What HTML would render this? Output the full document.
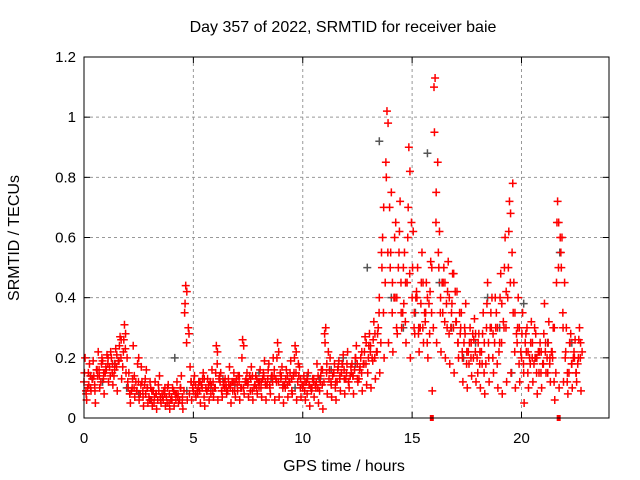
<!DOCTYPE html>
<html><head><meta charset="utf-8"><style>
body{margin:0;background:#fff}
svg{display:block;font-family:"Liberation Sans",sans-serif}
</style></head><body>
<svg id="chart" width="640" height="480">
<text x="343" y="32" font-size="16" text-anchor="middle">Day 357 of 2022, SRMTID for receiver baie</text>
<text x="344" y="471" font-size="16" text-anchor="middle">GPS time / hours</text>
<text transform="translate(19,238) rotate(-90)" font-size="16" text-anchor="middle">SRMTID / TECUs</text>
<g id="grid"></g><g id="axes"></g><g id="marks"></g>
<rect x="84" y="57" width="525" height="361" fill="none" stroke="#000"/>
</svg>
<script>
const xTicks=[0,5,10,15,20];
const yTicks=[0,0.2,0.4,0.6,0.8,1,1.2];
const mainVals=[.12,.08,.15,.10,.13,.09,.16,.14,.18,.15,.17,.2,.14,.18,.16,.21,.19,.26,.22,.28,.12,.08,.1,.14,.09,.2,.11,.07,.13,.1,.06,.09,.05,.08,.11,.06,.07,.1,.05,.08,.07,.09,.06,.08,.1,.07,.35,.42,.28,.12,.09,.11,.08,.12,.1,.13,.09,.11,.08,.12,.1,.22,.14,.09,.12,.1,.13,.11,.09,.12,.11,.14,.1,.24,.13,.12,.09,.14,.11,.13,.1,.12,.15,.11,.13,.1,.14,.16,.12,.22,.13,.11,.1,.14,.12,.09,.15,.22,.18,.13,.1,.12,.08,.11,.09,.13,.1,.14,.12,.16,.28,.18,.13,.11,.15,.12,.16,.14,.18,.13,.15,.12,.17,.14,.2,.13,.16,.22,.18,.25,.2,.24,.19,.28,.22,.4,.55,.7,.85,.98,.5,.45,.6,.4,.55,.35,.5,.45,.6,.82,.4,.35,.42,.3,.38,.45,.32,.4,.28,.5,1.1,.75,.55,.4,.35,.45,.3,.4,.35,.48,.32,.25,.28,.2,.3,.22,.18,.25,.2,.28,.15,.22,.18,.25,.3,.2,.35,.28,.4,.3,.25,.38,.3,.42,.5,.68,.78,.35,.25,.3,.2,.15,.28,.22,.18,.25,.3,.2,.15,.22,.18,.25,.15,.2,.22,.3,.45,.65,.55,.3,.2,.15,.25,.18,.22,.15,.2,.25];
const upperVals=[.2,.18,.14,.22,.19,.21,.2,.23,.27,.31,.15,.24,.18,.12,.16,.1,.12,.14,.09,.11,.1,.12,.14,.44,.17,.14,.12,.15,.13,.16,.24,.15,.13,.17,.15,.14,.26,.15,.17,.14,.16,.19,.18,.2,.25,.17,.16,.19,.24,.17,.14,.15,.13,.18,.16,.3,.2,.18,.19,.21,.22,.18,.24,.2,.27,.28,.32,.3,.6,1.02,.75,.65,.72,.55,.9,.62,.5,.55,.45,.52,1.13,.62,.5,.52,.48,.42,.35,.38,.3,.33,.28,.35,.45,.4,.35,.48,.6,.72,.45,.4,.35,.3,.32,.28,.25,.38,.32,.3,.72,.6,.3,.28,.26,.3];
const lowerVals=[.06,.09,.05,.1,.08,.12,.11,.09,.13,.15,.05,.07,.06,.04,.05,.04,.03,.05,.04,.03,.04,.05,.03,.06,.06,.07,.05,.04,.06,.07,.06,.07,.08,.05,.07,.06,.08,.07,.06,.08,.07,.06,.08,.06,.07,.05,.07,.08,.06,.07,.06,.04,.07,.05,.03,.08,.07,.06,.09,.08,.1,.08,.12,.09,.11,.1,.13,.15,.2,.25,.22,.28,.3,.25,.2,.28,.22,.25,.2,.09,.25,.22,.2,.18,.15,.2,.12,.1,.14,.12,.1,.08,.12,.15,.1,.08,.12,.15,.1,.12,.05,.1,.12,.08,.1,.15,.12,.06,.1,.12,.08,.1,.12,.09];
const midVals=[.1,.13,.16,.12,.15,.17,.14,.19,.17,.2,.09,.12,.08,.11,.07,.09,.06,.08,.07,.06,.08,.06,.09,.3,.1,.09,.11,.1,.12,.1,.13,.11,.09,.12,.13,.1,.12,.14,.1,.12,.13,.11,.14,.13,.15,.11,.12,.14,.12,.11,.12,.1,.11,.09,.12,.22,.14,.12,.15,.13,.14,.16,.13,.18,.15,.2,.22,.25,.45,.7,.4,.5,.35,.45,.65,.4,.3,.35,.38,.3,.85,.45,.38,.3,.42,.35,.25,.22,.28,.2,.22,.18,.3,.25,.22,.32,.4,.55,.28,.22,.25,.2,.18,.22,.18,.2,.22,.15,.6,.45,.15,.2,.18,.22];
const extraAVals=[.15,.11,.19,.14,.2,.16,.22,.18,.24,.26,.1,.13,.09,.17,.08,.12,.07,.09,.06,.1,.06,.08,.1,.38,.08,.12,.1,.13,.09,.11,.15,.12,.1,.11,.12,.09,.2,.12,.13,.11,.12,.14,.16,.12,.2,.14,.13,.15,.2,.14,.11,.13,.1,.12,.14,.25,.16,.15,.17,.18,.18,.15,.2,.17,.22,.24,.26,.28,.5,.8,.55,.4,.62,.38,.7,.5,.4,.45,.35,.42,.95,.5,.45,.42,.38,.32,.3,.28,.25,.26,.25,.28,.38,.3,.3,.4,.5,.62,.35,.3,.28,.22,.25,.2,.22,.28,.25,.2,.65,.5,.22,.25,.2,.26];
const extraBVals=[.09,.14,.11,.16,.13,.18,.15,.17,.2,.23,.08,.1,.12,.09,.1,.06,.08,.07,.08,.05,.09,.07,.05,.25,.12,.08,.09,.07,.1,.09,.18,.09,.11,.1,.09,.12,.1,.11,.09,.1,.1,.12,.11,.14,.12,.1,.11,.13,.15,.1,.09,.11,.12,.1,.11,.15,.12,.1,.13,.16,.12,.14,.18,.15,.18,.22,.2,.35,.35,.55,.35,.3,.45,.32,.48,.3,.28,.3,.25,.35,.65,.35,.32,.28,.3,.25,.22,.18,.2,.22,.18,.15,.25,.2,.18,.25,.3,.45,.22,.18,.18,.15,.2,.15,.15,.22,.18,.12,.5,.35,.12,.18,.15,.2];
const grayVals=[.14,.12,.18,.1,.08,.06,.07,.2,.09,.12,.1,.13,.11,.12,.15,.13,.11,.1,.14,.13,.16,.2,.18,.5,.92,.4,.3,.35,.88,.45,.3,.2,.25,.4,.3,.15,.38,.2,.25,.55,.25];
const gapTimes=[15.9,21.7];
const X=t=>84+t*525/24, Y=v=>418-v*361/1.2;
const NS='http://www.w3.org/2000/svg';
const grid=document.getElementById('grid'),axes=document.getElementById('axes'),marks=document.getElementById('marks');
function mk(tag,attrs,parent){const e=document.createElementNS(NS,tag);for(const k in attrs)e.setAttribute(k,attrs[k]);parent.appendChild(e);return e;}
xTicks.forEach(t=>{const x=X(t);
 if(t>0){const g=mk('line',{x1:x,x2:x,y1:57,y2:418,stroke:'#999','stroke-dasharray':'3,3'},grid);
 
 }
 mk('line',{x1:x,x2:x,y1:418,y2:412,stroke:'#000'},axes);mk('line',{x1:x,x2:x,y1:57,y2:63,stroke:'#000'},axes);
 const l=mk('text',{x:x,y:443,'font-size':15,'text-anchor':'middle'},axes);l.textContent=t;
 
 });
yTicks.forEach(v=>{const y=Y(v);
 if(v>0&&v<1.2){const g=mk('line',{x1:84,x2:609,y1:y,y2:y,stroke:'#999','stroke-dasharray':'3,3'},grid);
 
 }
 mk('line',{x1:84,x2:90,y1:y,y2:y,stroke:'#000'},axes);mk('line',{x1:609,x2:603,y1:y,y2:y,stroke:'#000'},axes);
 const l=mk('text',{x:76,y:y+5,'font-size':15,'text-anchor':'end'},axes);l.textContent=String(v);
 
 });
function plus(vals,t0,step,color,name){let d='';vals.forEach((v,i)=>{const x=X(t0+i*step),y=Y(v);d+=`M${x-4},${y}h8M${x},${y-4}v8`;});
 const p=mk('path',{d:d,stroke:color,'stroke-width':1.5,fill:'none'},marks);
 
 }
plus(grayVals,0.3,0.55,'#555','gray-series');
plus(mainVals,0,0.1,'#f00','red-series-main');
plus(upperVals,0.05,0.2,'#f00','red-series-upper');
plus(lowerVals,0.12,0.2,'#f00','red-series-lower');
plus(midVals,0.17,0.2,'#f00','red-series-mid');
plus(extraAVals,0.02,0.2,'#f00','red-series-extra-a');
plus(extraBVals,0.09,0.2,'#f00','red-series-extra-b');
gapTimes.forEach(t=>{const r=mk('rect',{x:X(t)-2,y:415,width:4,height:6,fill:'#f00'},marks);
 
 });
</script>
</body></html>
